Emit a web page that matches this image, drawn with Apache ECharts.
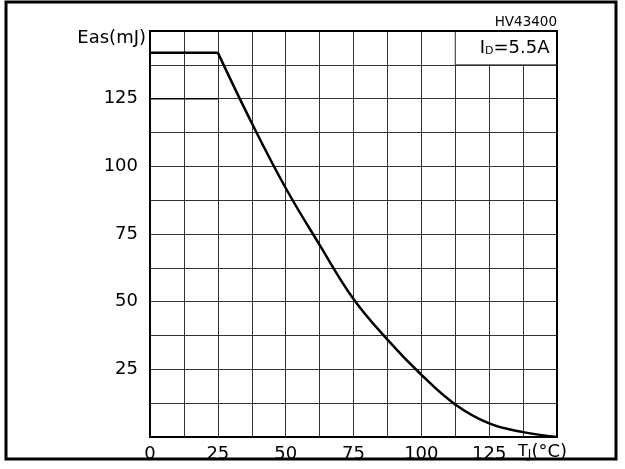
<!DOCTYPE html>
<html>
<head>
<meta charset="utf-8">
<script src="https://cdn.jsdelivr.net/npm/echarts@6/dist/echarts.min.js"></script>
<style>
html,body{margin:0;padding:0;background:#fff;}
#chart{width:625px;height:469px;}
</style>
</head>
<body>
<div id="chart"></div>
<script>
// ---- data ----
const xTickLabels = [0, 25, 50, 75, 100, 125];
const yTickLabels = [25, 50, 75, 100, 125];
const flatT = [0, 25];
const flatE = [142, 142];
const curveT = [25, 37.5, 50, 62.5, 75, 87.5, 100, 112.5, 125, 137.5, 150];
const curveE = [142, 116, 92, 71, 51, 36, 23, 12, 5, 1.8, 0];
const refT = [0, 25];
const refE = [125, 125];
const conditionBox = { t: [112.5, 150], e: [137.5, 150] };
const chartId = 'HV43400';

const zip = (a, b) => a.map((v, i) => [v, b[i]]);
const FONT = 'DejaVu Sans';

const chart = echarts.init(document.getElementById('chart'), null, { renderer: 'canvas' });

chart.setOption({
  animation: false,
  backgroundColor: '#fff',
  title: {
    text: chartId,
    right: 68,
    top: 15,
    padding: 0,
    textStyle: { fontFamily: FONT, fontSize: 13.5, fontWeight: 'normal', color: '#000' }
  },
  graphic: [{
    type: 'rect',
    shape: { x: 6, y: 2, width: 610, height: 457 },
    style: { fill: 'none', stroke: '#000', lineWidth: 3 },
    silent: true
  }],
  grid: {
    left: 150, right: 68, top: 31, bottom: 32,
    show: true, borderColor: '#000', borderWidth: 2,
    backgroundColor: 'transparent', z: 5
  },
  xAxis: {
    type: 'value', min: 0, max: 150, interval: 12.5,
    axisLine: { show: false },
    axisTick: { show: false },
    splitLine: { show: true, lineStyle: { color: '#333', width: 1 } },
    axisLabel: {
      margin: 8,
      fontFamily: FONT, fontSize: 18, color: '#000',
      formatter: v => xTickLabels.includes(v) ? String(v) : ''
    },
    name: 'T{s|J}{b|(°C)}',
    nameLocation: 'end',
    nameGap: 10,
    nameTextStyle: {
      align: 'right', verticalAlign: 'top', padding: [6, 0, 0, 0],
      fontFamily: FONT, fontSize: 16, color: '#000',
      rich: {
        s: { fontFamily: FONT, fontSize: 12, color: '#000', verticalAlign: 'bottom' },
        b: { fontFamily: FONT, fontSize: 18, color: '#000' }
      }
    }
  },
  yAxis: {
    type: 'value', min: 0, max: 150, interval: 12.5,
    axisLine: { show: false },
    axisTick: { show: false },
    splitLine: { show: true, lineStyle: { color: '#333', width: 1 } },
    axisLabel: {
      margin: 12,
      fontFamily: FONT, fontSize: 18, color: '#000',
      formatter: v => yTickLabels.includes(v) ? String(v) : ''
    },
    name: 'Eas(mJ)',
    nameLocation: 'end',
    nameGap: 2,
    nameTextStyle: {
      align: 'right', verticalAlign: 'top', padding: [0, 4, 0, 0],
      fontFamily: FONT, fontSize: 18, color: '#000'
    }
  },
  series: [
    {
      type: 'line', data: zip(refT, refE), symbol: 'none',
      lineStyle: { color: '#000', width: 1.5 }, z: 3
    },
    {
      type: 'line', data: zip(flatT, flatE), symbol: 'none',
      lineStyle: { color: '#000', width: 2.5 }, z: 4
    },
    {
      type: 'line', data: zip(curveT, curveE), symbol: 'none',
      smooth: 0.4,
      lineStyle: { color: '#000', width: 2.5 }, z: 4,
      markArea: {
        silent: true,
        itemStyle: { color: '#fff', borderColor: '#333', borderWidth: 1 },
        label: {
          show: true, position: 'insideRight', distance: 8,
          formatter: '{b|I}{s|D}{b|=5.5A}',
          rich: {
            b: { fontFamily: FONT, fontSize: 18, color: '#000' },
            s: { fontFamily: FONT, fontSize: 11, color: '#000', verticalAlign: 'bottom' }
          }
        },
        data: [[
          { xAxis: conditionBox.t[0], yAxis: conditionBox.e[0] },
          { xAxis: conditionBox.t[1], yAxis: conditionBox.e[1] }
        ]]
      }
    }
  ]
});
</script>
</body>
</html>
